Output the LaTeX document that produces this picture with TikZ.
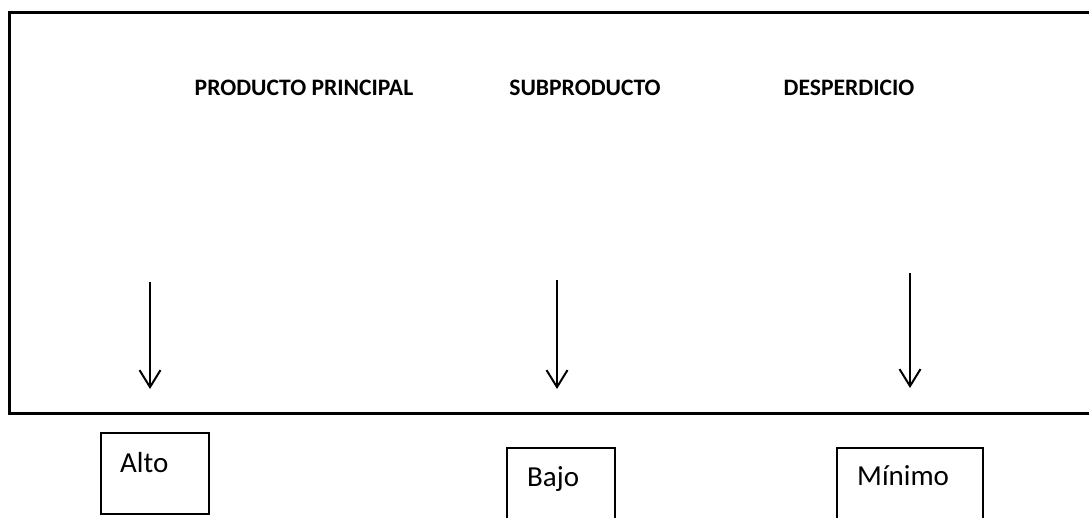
\documentclass[tikz,border=0pt]{standalone}
\usepackage{fontspec}
\setmainfont{Carlito}
\usetikzlibrary{arrows.meta}
\begin{document}
\begin{tikzpicture}[x=1pt,y=-1pt,
  heading/.style={font=\fontsize{23.6}{28}\selectfont\bfseries, inner sep=0pt},
  boxlabel/.style={font=\fontsize{29}{34}\selectfont, inner sep=0pt, anchor=base west},
  valbox/.style={draw, line width=1.8pt, inner sep=0pt, anchor=north west},
  flow/.style={line width=2pt, -{Straight Barb[length=17pt,width=21pt,line width=2pt]}}]
\useasboundingbox (0,0) rectangle (1089,518);
\clip (0,0) rectangle (1089,518);
% outer frame (right side beyond the picture)
\node[draw, line width=2.8pt, inner sep=0pt, minimum width=1100pt, minimum height=401pt, anchor=north west] (frame) at (8,11) {};
% headings
\node[heading] (hp) at (304,88) {PRODUCTO PRINCIPAL};
\node[heading] (hs) at (585,88) {SUBPRODUCTO};
\node[heading] (hd) at (849,88) {DESPERDICIO};
% arrows
\coordinate (a1s) at (150,282); \coordinate (a1e) at (150,389);
\coordinate (a2s) at (557,280); \coordinate (a2e) at (557,389);
\coordinate (a3s) at (910,273); \coordinate (a3e) at (910,388);
\draw[flow] (a1s) -- (a1e);
\draw[flow] (a2s) -- (a2e);
\draw[flow] (a3s) -- (a3e);
% value boxes
\node[valbox, minimum width=108pt, minimum height=81pt] (alto) at (100,432) {};
\node[boxlabel] (altot) at (120,472) {Alto};
\node[valbox, minimum width=108pt, minimum height=90pt] (bajo) at (506,447) {};
\node[boxlabel] (bajot) at (527,486) {Bajo};
\node[valbox, minimum width=146pt, minimum height=90pt] (minimo) at (836,447) {};
\node[boxlabel] (minimot) at (857,485) {Mínimo};
\end{tikzpicture}
\end{document}
